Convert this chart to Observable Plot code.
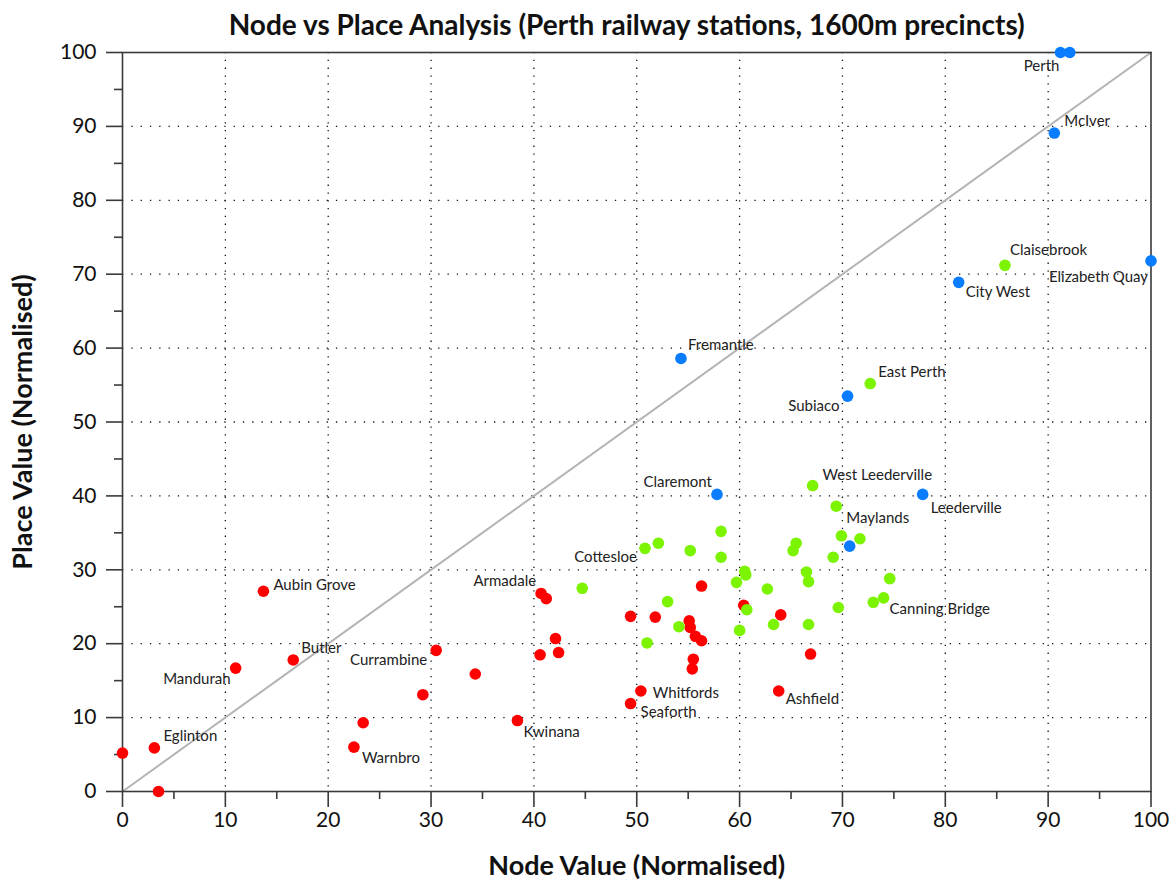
<!DOCTYPE html>
<html>
<head>
<meta charset="utf-8">
<script src="https://cdn.jsdelivr.net/npm/d3@7"></script>
<script src="https://cdn.jsdelivr.net/npm/@observablehq/plot@0.6"></script>
<style>
  body { margin: 0; background: #fff; }
  #chart { width: 1175px; height: 880px; }
</style>
</head>
<body>
<div id="chart"></div>
<script>
// ---- Data ----
const chartTitle = "Node vs Place Analysis (Perth railway stations, 1600m precincts)";
const xTitle = "Node Value (Normalised)";
const yTitle = "Place Value (Normalised)";

const stationNames = [
  // red group
  "", "Eglinton", "", "Mandurah", "Aubin Grove", "Butler", "Warnbro", "", "", "Currambine",
  "", "Kwinana", "", "Armadale", "", "", "", "", "Seaforth", "Whitfords",
  "", "", "", "", "", "", "", "", "", "",
  "Ashfield", "",
  // green group
  "", "Cottesloe", "", "", "", "", "", "", "", "",
  "", "", "", "", "", "", "", "", "", "",
  "", "West Leederville", "Maylands", "", "", "", "", "", "Canning Bridge", "",
  "East Perth", "Claisebrook",
  // blue group
  "Perth", "", "McIver", "Elizabeth Quay", "City West", "Fremantle", "Subiaco", "Claremont", "Leederville", ""
];
const nodeValues = [
  0, 3.1, 3.5, 11.0, 13.7, 16.6, 22.5, 23.4, 29.2, 30.5,
  34.3, 38.4, 40.6, 40.7, 41.2, 42.1, 42.4, 49.4, 49.4, 50.4,
  51.8, 55.1, 55.2, 55.7, 56.3, 55.5, 55.4, 56.3, 60.4, 64.0,
  63.8, 66.9,
  44.7, 50.8, 52.1, 55.2, 58.2, 58.2, 53.0, 54.1, 51.0, 59.7,
  60.5, 60.6, 60.7, 60.0, 62.7, 63.3, 65.5, 65.2, 66.5, 66.7,
  66.7, 67.1, 69.4, 69.9, 71.7, 69.1, 69.6, 74.6, 74.0, 73.0,
  72.7, 85.8,
  91.2, 92.1, 90.6, 100, 81.3, 54.3, 70.5, 57.8, 77.8, 70.7
];
const placeValues = [
  5.2, 5.9, 0, 16.7, 27.1, 17.8, 6.0, 9.3, 13.1, 19.1,
  15.9, 9.6, 18.5, 26.8, 26.1, 20.7, 18.8, 23.7, 11.9, 13.6,
  23.6, 23.1, 22.2, 21.0, 20.4, 17.9, 16.6, 27.8, 25.2, 23.9,
  13.6, 18.6,
  27.5, 32.9, 33.6, 32.6, 35.2, 31.7, 25.7, 22.3, 20.1, 28.3,
  29.8, 29.3, 24.6, 21.8, 27.4, 22.6, 33.6, 32.6, 29.7, 28.4,
  22.6, 41.4, 38.6, 34.6, 34.2, 31.7, 24.9, 28.8, 26.2, 25.6,
  55.2, 71.2,
  100, 100, 89.1, 71.8, 68.9, 58.6, 53.5, 40.2, 40.2, 33.2
];
const stationGroups = [
  ...Array(32).fill("Group 1"),
  ...Array(32).fill("Group 2"),
  ...Array(10).fill("Group 3")
];
const groupOrder = ["Group 1", "Group 2", "Group 3"];
const majorTicks = [0, 10, 20, 30, 40, 50, 60, 70, 80, 90, 100];
const minorTicks = [5, 15, 25, 35, 45, 55, 65, 75, 85, 95];
const gridTicks = [10, 20, 30, 40, 50, 60, 70, 80, 90];
const parityLine = [0, 100];

// ---- Styling (kept apart from the data) ----
const groupColors = ["#ff0000", "#7cf400", "#0a7cff"];
const labelPlacement = {
  "Perth": [-1, 14, "end"],
  "McIver": [10, -12, "start"],
  "Claisebrook": [5, -15, "start"],
  "Elizabeth Quay": [-3, 16, "end"],
  "City West": [7, 10, "start"],
  "Fremantle": [7, -13, "start"],
  "East Perth": [8, -11, "start"],
  "Subiaco": [-8, 10, "end"],
  "West Leederville": [10, -10, "start"],
  "Claremont": [-5, -12, "end"],
  "Maylands": [10, 12, "start"],
  "Leederville": [8, 14, "start"],
  "Cottesloe": [-8, 9, "end"],
  "Armadale": [-5, -12, "end"],
  "Canning Bridge": [6, 11, "start"],
  "Whitfords": [12, 2, "start"],
  "Seaforth": [10, 9, "start"],
  "Ashfield": [7, 8, "start"],
  "Kwinana": [6, 12, "start"],
  "Aubin Grove": [10, -6, "start"],
  "Butler": [8, -12, "start"],
  "Currambine": [-9, 10, "end"],
  "Mandurah": [-5, 11, "end"],
  "Eglinton": [9, -12, "start"],
  "Warnbro": [8, 11, "start"]
};

const stations = stationNames.map((name, i) => ({
  name, node: nodeValues[i], place: placeValues[i], group: stationGroups[i]
}));

const FONT = "Lato, 'Open Sans', sans-serif";
const axisColor = "#3a3a3a";

const labelMarks = stations
  .filter(d => d.name && labelPlacement[d.name])
  .map(d => {
    const [dx, dy, anchor] = labelPlacement[d.name];
    return Plot.text([d], {
      x: "node", y: "place", text: "name", dx, dy, textAnchor: anchor,
      fontSize: 15, fill: "#222", fontFamily: FONT
    });
  });

const chart = Plot.plot({
  width: 1175,
  height: 880,
  marginLeft: 122,
  marginRight: 24.5,
  marginTop: 52,
  marginBottom: 89,
  style: { fontFamily: FONT, background: "#fff", color: "#111", overflow: "visible" },
  x: { domain: [0, 100], label: null },
  y: { domain: [0, 100], label: null },
  color: { domain: groupOrder, range: groupColors },
  marks: [
    Plot.gridX({ ticks: gridTicks, stroke: "#111", strokeOpacity: 1, strokeWidth: 1.3, strokeDasharray: "1.3,6.5" }),
    Plot.gridY({ ticks: gridTicks, stroke: "#111", strokeOpacity: 1, strokeWidth: 1.3, strokeDasharray: "1.3,8" }),
    Plot.line(parityLine, { x: d => d, y: d => d, stroke: "#b4b4b4", strokeWidth: 2 }),
    Plot.frame({ stroke: axisColor, strokeWidth: 1.6 }),
    Plot.axisX({ ticks: majorTicks, tickSize: 16, tickPadding: 5, fontSize: 21, stroke: axisColor, strokeWidth: 1.6, label: null }),
    Plot.axisX({ ticks: minorTicks, tickSize: 8, tickFormat: () => "", stroke: axisColor, strokeWidth: 1.6, label: null }),
    Plot.axisY({ ticks: majorTicks, tickSize: 16, tickPadding: 10, fontSize: 21, stroke: axisColor, strokeWidth: 1.6, label: null }),
    Plot.axisY({ ticks: minorTicks, tickSize: 8, tickFormat: () => "", stroke: axisColor, strokeWidth: 1.6, label: null }),
    ...groupOrder.map(g => Plot.dot(stations.filter(d => d.group === g), {
      x: "node", y: "place", r: 5.8, fill: "group", stroke: null
    })),
    ...labelMarks,
    Plot.text([chartTitle], { text: d => d, frameAnchor: "top", lineAnchor: "middle", textAnchor: "middle", dy: -26, dx: -10, fontSize: 28, fontWeight: "bold", fill: "#111", fontFamily: FONT }),
    Plot.text([xTitle], { text: d => d, frameAnchor: "bottom", lineAnchor: "middle", textAnchor: "middle", dy: 75, fontSize: 27, fontWeight: "bold", fill: "#111", fontFamily: FONT }),
    Plot.text([yTitle], { text: d => d, frameAnchor: "left", lineAnchor: "middle", textAnchor: "middle", dx: -99, rotate: -90, fontSize: 27, fontWeight: "bold", fill: "#111", fontFamily: FONT })
  ]
});

document.getElementById("chart").appendChild(chart);
</script>
</body>
</html>
